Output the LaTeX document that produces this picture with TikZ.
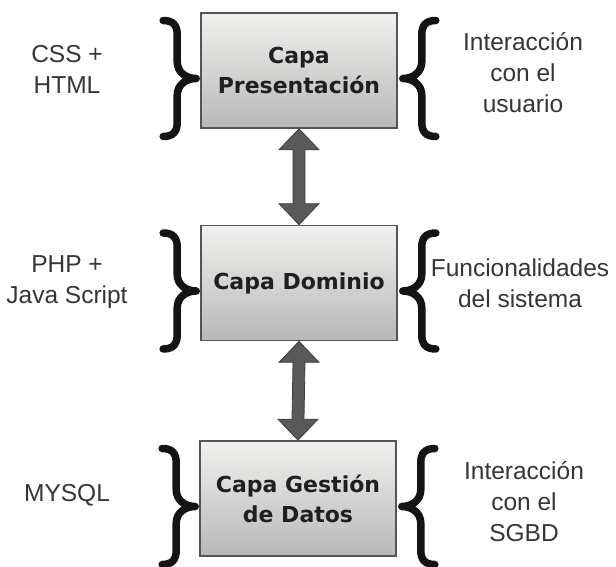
\documentclass[tikz,border=0pt]{standalone}
\usepackage{fontspec}
\setmainfont{Liberation Sans}
\newfontfamily\layerfont{DejaVu Sans}
\usetikzlibrary{calc}

\definecolor{labelgray}{HTML}{353535}
\definecolor{boxedge}{HTML}{555555}
\definecolor{boxtop}{HTML}{F0F0EE}
\definecolor{boxbottom}{HTML}{B9B8B8}
\definecolor{arrowgray}{HTML}{595959}

\tikzset{
  layer/.style={draw=boxedge, line width=1.6pt, top color=boxtop, bottom color=boxbottom,
    minimum width=196pt, minimum height=115pt, inner sep=0pt, align=center,
    font=\layerfont\bfseries\fontsize{22}{30}\selectfont, text=black!88},
  side/.style={align=center, font=\fontsize{24.5}{31}\selectfont, text=labelgray},
  bracepen/.style={draw=black!92, line width=7.5pt, line cap=round, line join=round},
  blockarrow/.style={fill=arrowgray, draw=arrowgray!70!black, line width=0.8pt, line join=miter},
  lbrace/.pic={\draw[bracepen] (-33,-58) .. controls (-23,-58) and (-19,-53) .. (-19,-44)
      -- (-19,-17) .. controls (-19,-6) and (-10,0) .. (0,0)
      .. controls (-10,0) and (-19,6) .. (-19,17) -- (-19,44)
      .. controls (-19,53) and (-23,58) .. (-33,58);},
  rbrace/.pic={\draw[bracepen] (33,-58) .. controls (23,-58) and (19,-53) .. (19,-44)
      -- (19,-17) .. controls (19,-6) and (10,0) .. (0,0)
      .. controls (10,0) and (19,6) .. (19,17) -- (19,44)
      .. controls (19,53) and (23,58) .. (33,58);}
}

\begin{document}
\begin{tikzpicture}[x=1pt,y=-1pt]
  \useasboundingbox (0,0) rectangle (616,567);

  % the three layers
  \node[layer] (pres) at (299,70.5) {Capa\\Presentación};
  \node[layer] (dom)  at (299,283)  {Capa Dominio};
  \node[layer] (dat)  at (298,498.5) {Capa Gestión\\de Datos};

  % double-headed block arrows between adjacent layers
  \foreach \u/\l in {pres/dom, dom/dat}{
    \filldraw[blockarrow] (\u.south) -- ($(\u.south)+(20,21)$) -- ($(\u.south)+(6,21)$)
      -- ($(\l.north)+(6,-21)$) -- ($(\l.north)+(20,-21)$) -- (\l.north)
      -- ($(\l.north)+(-20,-21)$) -- ($(\l.north)+(-6,-21)$)
      -- ($(\u.south)+(-6,21)$) -- ($(\u.south)+(-20,21)$) -- cycle;
  }

  % braces on both sides of each layer
  \foreach \n in {pres, dom, dat}{
    \pic at ($(\n.west)+(-4,8)$) {lbrace};
    \pic at ($(\n.east)+(5,8)$) {rbrace};
  }

  % technologies (left)
  \node[side] (tpres) at (67,69)  {CSS +\\HTML};
  \node[side] (tdom)  at (67,282) {PHP +\\Java Script};
  \node[side] (tdat)  at (67,495) {MYSQL};

  % responsibilities (right)
  \node[side] (rpres) at (523,73)  {Interacción\\con el\\usuario};
  \node[side] (rdom)  at (520,283) {Funcionalidades\\del sistema};
  \node[side] (rdat)  at (524,502) {Interacción\\con el\\SGBD};
\end{tikzpicture}
\end{document}
